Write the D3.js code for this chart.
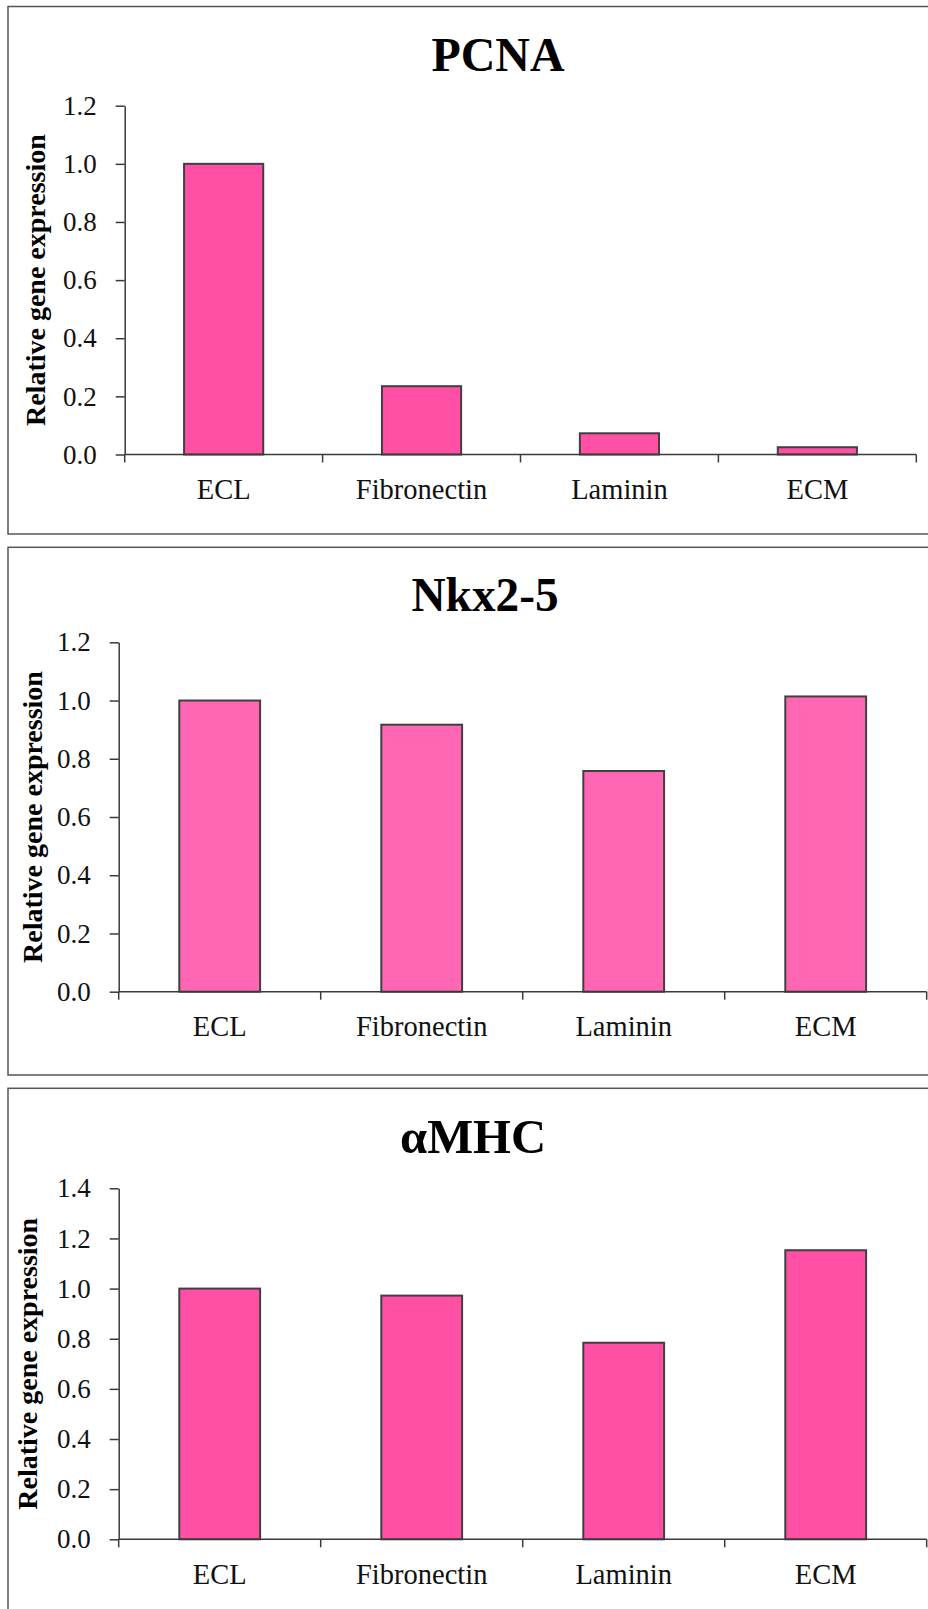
<!DOCTYPE html>
<html>
<head>
<meta charset="utf-8">
<script src="https://cdn.jsdelivr.net/npm/d3@7"></script>
<style>
  html, body { margin: 0; padding: 0; background: #fff; }
  svg { display: block; }
</style>
</head>
<body>
<svg id="chart" width="928" height="1609"></svg>
<script>
// ---- data ----
const categories = ["ECL", "Fibronectin", "Laminin", "ECM"];
const titles = ["PCNA", "Nkx2-5", "αMHC"];
const pcnaValues = [1.0, 0.235, 0.073, 0.025];
const nkxValues = [1.0, 0.917, 0.758, 1.014];
const amhcValues = [1.0, 0.972, 0.784, 1.153];
const ticks12 = [0, 0.2, 0.4, 0.6, 0.8, 1.0, 1.2];
const ticks14 = [0, 0.2, 0.4, 0.6, 0.8, 1.0, 1.2, 1.4];
const yLabelText = "Relative gene expression";

// ---- layout ----
const panels = [
  { title: titles[0], values: pcnaValues, ticks: ticks12, max: 1.2, fill: "#ff50a6",
    box: [6.5, 534], x: [124.7, 916.3], y: [454.5, 105.7],
    titleX: 498, titleY: 71, titleW: 133, yLabX: 45 },
  { title: titles[1], values: nkxValues, ticks: ticks12, max: 1.2, fill: "#ff66b3",
    box: [547.3, 1075], x: [118.7, 926.7], y: [991.7, 642.3],
    titleX: 485, titleY: 611, titleW: 147, yLabX: 42 },
  { title: titles[2], values: amhcValues, ticks: ticks14, max: 1.4, fill: "#ff50a6",
    box: [1088.3, 1700], x: [118.7, 926.7], y: [1539.3, 1188.3],
    titleX: 473, titleY: 1153, titleW: 146, yLabX: 37 }
];

const svg = d3.select("#chart");
const serif = "'Liberation Serif', 'Times New Roman', Times, serif";
const axisColor = "#3a3a3a";

panels.forEach(p => {
  const g = svg.append("g");

  // panel frame
  g.append("rect")
    .attr("x", 8).attr("y", p.box[0])
    .attr("width", 1000).attr("height", p.box[1] - p.box[0])
    .attr("fill", "none").attr("stroke", "#555").attr("stroke-width", 1.5);

  const x = d3.scaleBand().domain(categories).range(p.x).padding(0);
  const y = d3.scaleLinear().domain([0, p.max]).range(p.y);

  // title
  g.append("text")
    .attr("x", p.titleX).attr("y", p.titleY)
    .attr("text-anchor", "middle")
    .attr("font-family", serif).attr("font-weight", "bold")
    .attr("font-size", 48)
    .attr("textLength", p.titleW).attr("lengthAdjust", "spacingAndGlyphs")
    .text(p.title);

  // bars
  const bw = x.bandwidth() * 0.4;
  g.append("g").selectAll("rect")
    .data(categories.map((c, i) => ({ c, v: p.values[i] })))
    .join("rect")
    .attr("x", d => x(d.c) + (x.bandwidth() - bw) / 2)
    .attr("y", d => y(d.v))
    .attr("width", bw)
    .attr("height", d => y(0) - y(d.v))
    .attr("fill", p.fill)
    .attr("stroke", "#404040").attr("stroke-width", 2);

  // y axis
  const ya = g.append("g")
    .attr("transform", `translate(${p.x[0]},0)`)
    .call(d3.axisLeft(y).tickValues(p.ticks).tickFormat(d3.format(".1f"))
      .tickSize(9).tickSizeOuter(0).tickPadding(19));
  ya.selectAll("path, line").attr("stroke", axisColor).attr("stroke-width", 1.5);
  ya.selectAll("text").attr("font-family", serif).attr("font-size", 27).attr("fill", "#111");

  // x axis line and boundary ticks
  g.append("line")
    .attr("x1", p.x[0]).attr("x2", p.x[1])
    .attr("y1", y(0)).attr("y2", y(0))
    .attr("stroke", axisColor).attr("stroke-width", 1.5);
  const bounds = categories.map(c => x(c)).concat([x.range()[1]]);
  g.append("g").selectAll("line")
    .data(bounds)
    .join("line")
    .attr("x1", d => d).attr("x2", d => d)
    .attr("y1", y(0)).attr("y2", y(0) + 8)
    .attr("stroke", axisColor).attr("stroke-width", 1.5);

  // category labels
  const xa = g.append("g")
    .attr("transform", `translate(0,${y(0)})`)
    .call(d3.axisBottom(x).tickSize(0).tickPadding(24));
  xa.select(".domain").remove();
  xa.selectAll("text").attr("font-family", serif).attr("font-size", 28.5).attr("fill", "#111");

  // y label
  const cy = (p.y[0] + p.y[1]) / 2;
  g.append("text")
    .attr("transform", `translate(${p.yLabX},${cy}) rotate(-90)`)
    .attr("text-anchor", "middle")
    .attr("font-family", serif).attr("font-weight", "bold")
    .attr("font-size", 28)
    .text(yLabelText);
});
</script>
</body>
</html>
